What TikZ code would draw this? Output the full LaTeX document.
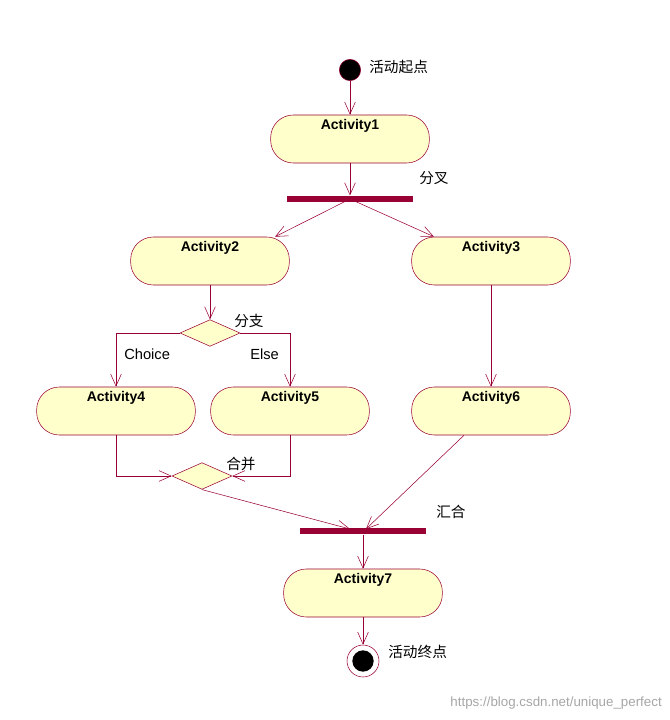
\documentclass[tikz,border=0pt]{standalone}
\usepackage{fontspec}
\setmainfont{Liberation Sans}
\newfontfamily\cjk{Noto Sans CJK SC}
\usetikzlibrary{arrows.meta,shapes.geometric}
\definecolor{ln}{HTML}{990033}
\definecolor{fl}{HTML}{FFFFCC}
\begin{document}
\begin{tikzpicture}[x=0.75pt,y=-0.75pt,
  act/.style={draw=ln,fill=fl,rounded corners=17pt,minimum width=119pt,minimum height=36pt,inner sep=0pt,font=\bfseries\fontsize{10.5}{12}\selectfont,text depth=18pt,text height=4pt},
  dia/.style={draw=ln,fill=fl,diamond,aspect=2.2,inner sep=0pt,minimum width=45pt,minimum height=20pt},
  bar/.style={fill=ln,inner sep=0pt,minimum width=94pt,minimum height=5pt},
  ar/.style={draw=ln,-{Straight Barb[length=9pt,width=8pt]}},
  lb/.style={font=\cjk\fontsize{11}{13}\selectfont,inner sep=0pt},
  tl/.style={font=\fontsize{11}{13}\selectfont,inner sep=0pt}]
\useasboundingbox (0,0) rectangle (670,720);
\node[circle,fill=black,draw=ln,minimum size=16pt,inner sep=0pt] (s) at (350,70) {};
\node[act] (a1) at (350,139) {Activity1};
\node[bar] (f) at (350,199) {};
\node[act] (a2) at (210,261) {Activity2};
\node[act] (a3) at (491,261) {Activity3};
\node[dia] (d) at (210,333) {};
\node[act] (a4) at (116,411) {Activity4};
\node[act] (a5) at (290,411) {Activity5};
\node[act] (a6) at (491,411) {Activity6};
\node[dia] (m) at (202,476) {};
\node[bar] (j) at (363,531) {};
\node[act] (a7) at (363,593) {Activity7};
\node[circle,draw=ln,fill=white,minimum size=24pt,inner sep=0pt] (e) at (363,661) {};
\node[circle,fill=black,minimum size=16pt,inner sep=0pt] (e2) at (363,661) {};
\coordinate (fc) at (350,199);
\coordinate (jc) at (350,529);
\coordinate (jc2) at (366,529);
\draw[ar] (s) -- (a1);
\draw[ar] (a1) -- (f);
\draw[ar] (fc) -- (a2.north -| 275,0);
\draw[ar] (fc) -- (a3.north -| 434,0);
\draw[ar] (a2) -- (d);
\draw[ar] (d.west) -| (a4.north);
\draw[ar] (d.east) -| (a5.north);
\draw[ar] (a3) -- (a6);
\draw[ar] (a4.south) |- (m.west);
\draw[ar] (a5.south) |- (m.east);
\draw[ar] (m.south) -- (jc);
\draw[ar] (a6.south -| 464,0) -- (jc2);
\draw[ar] (j) -- (a7);
\draw[ar] (a7) -- (e);
\node[lb,anchor=west] (t1) at (369,67) {活动起点};
\node[lb,anchor=west] (t2) at (419,178) {分叉};
\node[lb,anchor=west] (t3) at (234,321) {分支};
\node[tl,anchor=west] (t4) at (124,354) {Choice};
\node[tl,anchor=west] (t5) at (250,354) {Else};
\node[lb,anchor=west] (t6) at (226,464) {合并};
\node[lb,anchor=west] (t7) at (436,512) {汇合};
\node[lb,anchor=west] (t8) at (388,652) {活动终点};
\node[font=\fontsize{10}{12}\selectfont,text=gray!70,anchor=east,inner sep=0pt] (w) at (662,703) {https://blog.csdn.net/unique\_perfect};
\end{tikzpicture}
\end{document}
